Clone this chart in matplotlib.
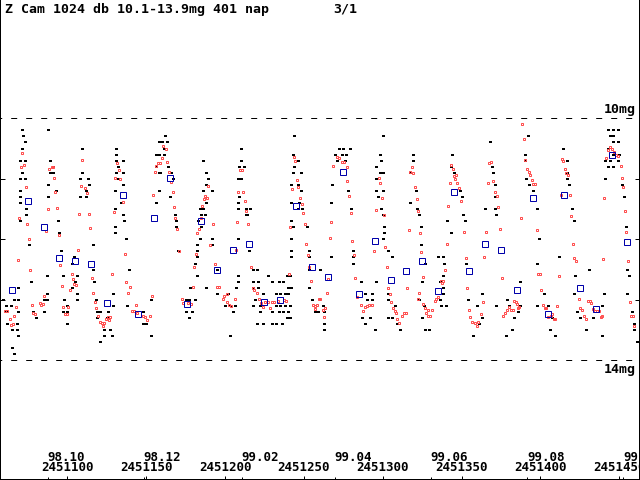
import matplotlib
matplotlib.use("Agg")
import matplotlib.pyplot as plt
import matplotlib.transforms as mtransforms
import pandas as pd

# Z Cam light curve, JD 2451057 - 2451463
JD0 = 2451000

# visual estimates (day = JD - 2451000, magnitude)
vis_obs = [
    (71, 10.2), (72, 10.3), (73, 10.4), (71, 10.5), (70, 10.7), (73, 10.7), (71, 10.9), (70, 11.0),
    (73, 11.0), (70, 11.2), (70, 11.3), (70, 11.4), (74, 11.5), (74, 11.6), (70, 11.7), (76, 12.1),
    (77, 12.7), (69, 12.8), (66, 13.0), (69, 13.0), (61, 13.1), (64, 13.1), (69, 13.2), (62, 13.4),
    (68, 13.4), (65, 13.5), (68, 13.5), (69, 13.6), (65, 13.8), (66, 13.9), (59, 13.0), (61, 13.2),
    (88, 10.2), (89, 10.7), (91, 10.8), (89, 10.9), (91, 10.9), (88, 11.1), (93, 11.2), (88, 11.3),
    (94, 11.7), (95, 11.9), (96, 12.2), (87, 12.6), (97, 12.6), (87, 12.9), (85, 13.0), (87, 13.0),
    (78, 13.2), (85, 13.2), (80, 13.3),
    (109, 10.5), (109, 10.9), (108, 11.0), (113, 11.0), (114, 11.1), (112, 11.2), (108, 11.3), (112, 11.3),
    (116, 12.1), (104, 12.3), (103, 12.4), (106, 12.6), (105, 12.7), (103, 12.8), (106, 12.9), (106, 13.0),
    (98, 13.0), (100, 13.1), (97, 13.2), (100, 13.2), (100, 13.4), (116, 12.5), (117, 12.7), (118, 13.0),
    (119, 13.2), (121, 13.2), (119, 13.3), (123, 13.5), (127, 13.5), (123, 13.6), (121, 13.7), (128, 13.6),
    (126, 13.2), (129, 12.9), (129, 13.1), (125, 13.3),
    (131, 10.5), (131, 10.6), (131, 10.7), (135, 10.7), (132, 10.8), (131, 10.9), (135, 10.9), (132, 11.0),
    (135, 11.1), (130, 11.2), (134, 11.4), (130, 11.5), (135, 11.6), (136, 11.7), (130, 11.8), (130, 11.9),
    (137, 12.0), (139, 12.5), (138, 13.1), (148, 13.2), (148, 13.4), (150, 13.4), (153, 13.6), (153, 13.0),
    (156, 10.6), (158, 10.6), (156, 10.8), (158, 10.9), (158, 11.2), (156, 11.4), (158, 10.4),
    (162, 10.3), (163, 10.4), (160, 10.4), (161, 10.5), (161, 10.6), (164, 10.8), (166, 10.9), (159, 10.9),
    (167, 11.0), (165, 11.3), (168, 11.6), (169, 11.7), (169, 11.8), (170, 12.2), (181, 12.4), (182, 12.6),
    (178, 12.8), (181, 13.0), (175, 13.0), (177, 13.0), (175, 13.2), (179, 13.2), (177, 13.3),
    (186, 10.7), (188, 10.9), (189, 11.0), (188, 11.1), (186, 11.2), (192, 11.2), (188, 11.4), (186, 11.5),
    (184, 11.5), (185, 11.6), (187, 11.6), (183, 11.7), (185, 11.8), (184, 12.0), (182, 12.1), (182, 12.2),
    (182, 12.3), (192, 12.0), (192, 12.1), (195, 12.5), (188, 12.8), (195, 12.9), (200, 13.1), (202, 12.9),
    (203, 13.1), (206, 13.1), (205, 13.2), (203, 13.6), (208, 12.6), (208, 12.7), (207, 12.8),
    (210, 10.5), (210, 10.7), (209, 10.8), (212, 10.8), (208, 11.0), (210, 11.0), (209, 11.3), (208, 11.4),
    (208, 11.5), (213, 11.5), (216, 11.5), (213, 11.6), (214, 11.6), (208, 12.0), (215, 12.2), (218, 12.5),
    (220, 12.5), (218, 12.7), (221, 12.7), (218, 12.8), (221, 12.8), (219, 13.0), (222, 13.1), (218, 13.1),
    (222, 13.2), (220, 13.4), (224, 13.4), (227, 12.6), (224, 12.9), (230, 12.7), (234, 12.7), (237, 12.7),
    (232, 12.9), (235, 12.9), (238, 12.9), (240, 12.9), (232, 13.1), (235, 13.1), (238, 13.1), (241, 13.1),
    (230, 13.2), (234, 13.2), (237, 13.2), (240, 13.2), (230, 13.4), (232, 13.4), (236, 13.4), (239, 13.3),
    (241, 13.3), (240, 12.8), (242, 12.8), (241, 12.6),
    (244, 10.3), (243, 10.6), (246, 10.7), (244, 10.8), (243, 10.9), (248, 10.9), (246, 11.1), (242, 11.1),
    (248, 11.2), (242, 11.4), (247, 11.4), (249, 11.5), (246, 11.5), (242, 11.7), (243, 11.8), (242, 12.0),
    (242, 12.2), (242, 12.3), (252, 11.8), (253, 12.2), (253, 12.3), (253, 12.5), (253, 12.8), (255, 13.0),
    (257, 13.2), (259, 13.2), (239, 12.6),
    (272, 10.5), (275, 10.5), (279, 10.5), (270, 10.6), (274, 10.6), (277, 10.6), (271, 10.7), (276, 10.7),
    (268, 11.1), (278, 11.2), (267, 11.4), (280, 11.5), (281, 12.2), (281, 12.3), (281, 12.4), (260, 12.5),
    (267, 12.3), (286, 12.7), (289, 12.9), (293, 12.9), (290, 13.0), (293, 13.0), (287, 13.3), (292, 13.3),
    (289, 13.4), (295, 13.5), (263, 13.2), (263, 13.4), (263, 13.5), (262, 13.1),
    (300, 10.3), (298, 10.6), (299, 10.7), (296, 10.8), (298, 10.9), (300, 10.9), (296, 11.0), (296, 11.2),
    (300, 11.2), (297, 11.3), (299, 11.5), (300, 11.6), (301, 11.8), (301, 11.9), (300, 12.0), (303, 12.2),
    (296, 12.7), (303, 12.9), (303, 13.0), (308, 13.1), (306, 13.3), (303, 13.3), (309, 13.4), (311, 13.5),
    (306, 12.3),
    (319, 10.6), (319, 10.7), (317, 10.9), (321, 11.2), (317, 11.4), (322, 11.5), (323, 11.6), (324, 11.8),
    (324, 12.1), (327, 12.4), (325, 12.7), (323, 13.0), (326, 13.1), (325, 13.3), (329, 13.5), (327, 13.5),
    (335, 12.3), (338, 12.3), (339, 12.4), (338, 12.6), (336, 12.7), (338, 12.8), (338, 12.9), (336, 13.0),
    (340, 13.1), (337, 13.1),
    (344, 10.6), (343, 10.8), (345, 10.9), (349, 11.2), (350, 11.3), (351, 11.6), (352, 11.7), (341, 11.7),
    (343, 11.9), (353, 12.4), (354, 13.0), (357, 13.6),
    (368, 10.4), (369, 10.8), (370, 10.9), (371, 11.1), (371, 11.3), (365, 11.5), (371, 11.5), (372, 11.6),
    (363, 12.9), (360, 13.1), (363, 13.3), (361, 13.4), (372, 13.1), (378, 13.6), (382, 13.5), (379, 13.0),
    (380, 13.1), (386, 13.2), (387, 13.1), (383, 13.3),
    (392, 10.3), (390, 10.6), (390, 10.7), (391, 11.0), (393, 11.1), (395, 11.2), (398, 11.5), (399, 12.0),
    (398, 12.4), (387, 12.7), (402, 12.9), (398, 13.1), (405, 13.1), (409, 13.6), (406, 13.5), (407, 13.3),
    (414, 10.5), (417, 10.7), (417, 11.0), (417, 10.9), (418, 11.1), (420, 11.5), (421, 11.7), (412, 12.3),
    (422, 12.6), (421, 12.9), (423, 13.2), (425, 13.3), (429, 13.5), (431, 12.5), (433, 13.3), (439, 13.1),
    (439, 13.6), (440, 12.9),
    (443, 10.2), (446, 10.2), (449, 10.2), (444, 10.3), (446, 10.3), (446, 10.4), (449, 10.4), (443, 10.5),
    (446, 10.6), (450, 10.6), (441, 10.7), (444, 10.7), (449, 10.7), (443, 10.8), (446, 10.8), (441, 11.0),
    (452, 11.1), (453, 11.3), (454, 11.8), (455, 12.5), (456, 12.6), (458, 13.2), (459, 13.4), (459, 13.5),
    (461, 13.7), (455, 12.9),
]

# red squares: other (instrumental) observations
red_obs = [
    (71.2, 10.58), (72.5, 10.78), (70.6, 10.81), (73.8, 11.14), (69.3, 11.64), (74.4, 11.74), (75.7, 12.00),
    (68.7, 12.35), (76.3, 12.50), (85.2, 12.93), (67.4, 13.12), (61.7, 13.19), (60.5, 13.19), (66.2, 13.27),
    (63.6, 13.31), (65.5, 13.40), (64.3, 13.42), (77.6, 13.09), (78.2, 13.22), (79.5, 13.24), (82.7, 13.06),
    (84.6, 13.07), (83.3, 13.09),
    (88.4, 10.83), (90.3, 10.81), (90.9, 10.81), (91.5, 10.99), (92.2, 11.21), (93.4, 11.49), (87.7, 11.50),
    (86.5, 11.87), (94.7, 11.93), (95.3, 12.43), (96.6, 12.78), (97.2, 13.12), (100.4, 13.12), (98.5, 13.24),
    (99.8, 13.24),
    (109.3, 10.69), (108.7, 11.12), (111.2, 11.16), (112.5, 11.24), (107.4, 11.59), (113.7, 11.59),
    (114.4, 11.82), (106.8, 12.17), (102.9, 12.58), (103.6, 12.66), (105.5, 12.76), (104.2, 12.74),
    (101.7, 12.83), (115.6, 12.64), (116.3, 12.89), (117.5, 13.04), (118.2, 13.14), (119.4, 13.26),
    (120.7, 13.36), (122.0, 13.39), (123.2, 13.39), (122.6, 13.44), (124.5, 13.31), (125.8, 13.29),
    (127.0, 13.29), (126.4, 13.34),
    (131.5, 10.74), (132.7, 10.86), (130.2, 10.99), (133.4, 11.01), (135.3, 11.39), (129.6, 11.55),
    (136.6, 12.25), (128.3, 12.58), (137.2, 12.71), (139.7, 12.79), (138.5, 12.89), (143.5, 13.09),
    (141.0, 13.19), (142.3, 13.19), (144.2, 13.21), (148.0, 13.26), (149.2, 13.29), (150.5, 13.34),
    (152.4, 13.27), (153.7, 12.94), (154.3, 11.27), (155.6, 10.89), (156.2, 10.79), (157.5, 10.74),
    (160.6, 10.45), (162.5, 10.50), (160.0, 10.66), (163.2, 10.73), (158.7, 10.74), (164.4, 10.89),
    (165.7, 11.06), (167.0, 11.21), (167.6, 11.47), (168.3, 11.65), (169.5, 11.83), (170.8, 12.20),
    (180.3, 12.45), (179.7, 12.79), (172.7, 12.99), (173.3, 13.06), (176.5, 13.06), (178.4, 13.07),
    (189.2, 11.12), (187.3, 11.29), (188.5, 11.31), (186.6, 11.34), (185.4, 11.45), (184.7, 11.65),
    (183.5, 11.83), (182.2, 11.90), (192.3, 11.75), (190.4, 12.10), (193.6, 12.40), (181.6, 12.25),
    (194.9, 12.79), (196.1, 12.79), (201.2, 12.91), (199.3, 12.93), (198.7, 12.99), (201.2, 13.04),
    (202.5, 13.09), (203.8, 13.11), (206.3, 12.98), (206.9, 12.18),
    (209.5, 10.86), (210.7, 10.86), (211.4, 11.22), (208.2, 11.21), (212.6, 11.36), (213.3, 11.54),
    (207.6, 11.72), (214.5, 11.75), (216.4, 12.46), (217.7, 12.81), (218.3, 12.84), (220.2, 12.89),
    (221.5, 12.98), (222.8, 13.06), (224.0, 13.12), (225.3, 13.04), (227.2, 13.04), (228.5, 13.14),
    (229.7, 13.04), (231.0, 13.04), (233.5, 13.02), (237.4, 13.01), (238.6, 13.02),
    (243.7, 10.64), (244.3, 10.71), (245.6, 11.02), (246.2, 11.14), (242.4, 11.17), (247.5, 11.31),
    (248.8, 11.42), (249.4, 11.57), (250.7, 11.74), (241.2, 11.80), (251.3, 12.08), (252.6, 12.26),
    (253.2, 12.46), (254.5, 12.69), (240.5, 12.58), (259.5, 12.98), (255.7, 13.09), (257.0, 13.11),
    (258.3, 13.09), (257.0, 13.16),
    (271.0, 10.64), (272.2, 10.66), (268.4, 10.79), (274.1, 10.73), (275.4, 10.73), (277.3, 10.81),
    (277.3, 11.04), (278.6, 11.29), (279.8, 11.57), (267.2, 11.72), (266.5, 11.98), (280.5, 12.03),
    (281.7, 12.26), (282.4, 12.64), (264.6, 12.89), (265.2, 12.66), (263.4, 13.14), (262.7, 13.29),
    (262.1, 13.17), (260.2, 12.99), (283.6, 12.96), (286.2, 13.09), (287.4, 13.19), (288.7, 13.12),
    (290.0, 13.11), (291.2, 13.09), (293.1, 13.09),
    (297.6, 10.99), (298.2, 11.07), (299.5, 11.32), (295.7, 11.52), (300.8, 11.60), (294.4, 12.20),
    (301.4, 12.13), (302.7, 12.46), (303.3, 12.81), (304.6, 12.91), (305.2, 13.04), (306.5, 13.14),
    (307.7, 13.19), (308.4, 13.22), (309.0, 13.32), (310.3, 13.39), (312.2, 13.26), (313.4, 13.22),
    (314.7, 13.22),
    (318.5, 10.81), (317.2, 10.88), (319.1, 10.91), (320.4, 11.14), (321.7, 11.34), (322.3, 11.54),
    (316.6, 11.85), (323.6, 11.90), (324.2, 12.21), (325.5, 12.63), (315.3, 12.81), (322.9, 12.89),
    (322.3, 12.98), (325.5, 13.07), (326.8, 13.14), (327.4, 13.21), (328.7, 13.17), (329.9, 13.26),
    (328.7, 13.26), (331.2, 13.17), (333.1, 13.02), (333.7, 12.99), (335.0, 12.96),
    (343.2, 10.78), (344.5, 10.83), (345.1, 10.96), (346.4, 10.93), (345.8, 11.01), (347.0, 11.07),
    (348.3, 11.16), (342.6, 11.07), (349.6, 11.36), (341.3, 11.45), (351.5, 11.88), (340.7, 12.07),
    (339.4, 12.50), (338.2, 12.69), (337.5, 12.73), (336.9, 12.69), (353.4, 12.81), (354.6, 13.17),
    (355.3, 13.29), (356.5, 13.36), (358.5, 13.39), (359.7, 13.44), (360.4, 13.36), (362.3, 13.24),
    (363.5, 13.04), (352.7, 12.31), (364.2, 12.30), (365.4, 11.88),
    (367.3, 10.74), (368.6, 10.73), (366.7, 11.07), (369.9, 11.04), (371.1, 11.22), (372.4, 11.29),
    (373.0, 11.47), (374.3, 11.83), (375.6, 12.64), (376.2, 13.26), (377.5, 13.21), (378.7, 13.17),
    (380.0, 13.12), (381.3, 13.17), (382.5, 13.17), (383.2, 13.02), (384.4, 13.04), (385.1, 13.07),
    (385.7, 13.14), (386.3, 13.12),
    (388.3, 10.10), (389.5, 10.35), (390.2, 10.69), (391.4, 10.83), (392.7, 10.88), (393.3, 10.94),
    (394.6, 11.02), (395.2, 11.09), (396.5, 11.09), (387.6, 11.64), (397.8, 11.85), (398.4, 12.58),
    (399.7, 12.58), (400.3, 12.83), (401.6, 13.09), (402.8, 13.14), (403.5, 13.14), (404.7, 13.29),
    (406.6, 13.26), (407.3, 13.24), (408.5, 13.31), (409.2, 13.32), (410.4, 13.11), (411.7, 12.61),
    (413.6, 10.68), (414.2, 10.71), (415.5, 10.83), (416.1, 10.91), (417.4, 10.93), (413.0, 11.27),
    (418.7, 11.26), (419.3, 11.62), (420.6, 12.07), (421.2, 12.31), (422.5, 12.36), (424.4, 12.99),
    (425.0, 13.14), (426.3, 13.17), (427.6, 13.27), (428.8, 13.32), (430.1, 13.02), (431.4, 13.02),
    (432.0, 13.06), (433.3, 13.16), (434.5, 13.19), (435.8, 13.19), (437.1, 13.19), (438.3, 13.29),
    (439.0, 13.26), (439.6, 12.33), (440.2, 11.32),
    (441.5, 10.66), (442.8, 10.53), (444.0, 10.48), (445.3, 10.51), (446.6, 10.56), (447.8, 10.60),
    (449.1, 10.63), (451.0, 10.79), (451.6, 10.98), (452.3, 11.14), (453.6, 11.54), (454.2, 11.88),
    (455.5, 12.36), (456.7, 13.04), (457.4, 13.26), (458.6, 13.26), (459.3, 13.44),
]

# blue squares: 10-day means
mean_obs = [
    (64.9, 12.84), (75.1, 11.36), (85.2, 11.79), (94.7, 12.31), (104.9, 12.36), (115.0, 12.40),
    (125.1, 13.06), (135.3, 11.26), (144.8, 13.24), (154.9, 11.65), (165.1, 10.98), (175.9, 13.07),
    (184.7, 11.69), (194.9, 12.50), (205.0, 12.18), (215.2, 12.07), (224.7, 13.04), (234.8, 13.01),
    (245.0, 11.45), (255.1, 12.45), (265.3, 12.63), (274.8, 10.89), (284.9, 12.91), (295.1, 12.03),
    (305.2, 12.68), (314.7, 12.53), (324.8, 12.36), (335.0, 12.86), (345.1, 11.22), (354.6, 12.53),
    (364.8, 12.07), (374.9, 12.18), (385.1, 12.83), (395.2, 11.32), (404.7, 13.24), (414.9, 11.26),
    (425.0, 12.81), (435.2, 13.16), (445.3, 10.60), (454.8, 12.05),
]

jd_ticks = [100, 150, 200, 250, 300, 350, 400, 450]
month_ticks = ["1998-10-01", "1998-12-01", "1999-02-01", "1999-04-01",
               "1999-06-01", "1999-08-01", "1999-10-01"]

plt.rcParams["lines.scale_dashes"] = False
mono = dict(family="DejaVu Sans Mono", weight="bold", size=9.5)
mono_small = dict(family="DejaVu Sans Mono", weight="bold", size=9)

fig = plt.figure(figsize=(6.4, 4.8), dpi=100)
ax = fig.add_axes([0, 0, 1, 1])
ax.set_xlim(57.3, 463.1)
ax.set_ylim(15.978, 8.045)

px = 0.72  # one pixel in points
ax.plot([p[0] for p in vis_obs], [p[1] for p in vis_obs], ls="none",
        marker=[(-1.5, -1), (1.5, -1), (1.5, 1), (-1.5, 1), (-1.5, -1)],
        ms=3 * px, mew=0, color="black", antialiased=False, zorder=2)
ax.plot([p[0] for p in red_obs], [p[1] for p in red_obs], ls="none", marker="s",
        ms=2.8 * px, mew=px, mec="#ff4d4d", mfc="none", antialiased=False, zorder=3)
ax.plot([p[0] for p in mean_obs], [p[1] for p in mean_obs], ls="none", marker="s",
        ms=5.5 * px, mew=px, mec="#0000aa", mfc="none", antialiased=False, zorder=4)

for m in (10, 14):
    ax.axhline(m, color="black", lw=px, ls=(3.1, (6 * px, 9 * px)), zorder=1)

ax.spines["top"].set_visible(False)
for side in ("left", "right", "bottom"):
    ax.spines[side].set_linewidth(2 * px)

ax.set_yticks([11, 12, 13])
ax.tick_params(axis="y", direction="in", length=5 * px, width=px,
               left=True, right=True, labelleft=False)

month_t = [pd.Timestamp(d).to_julian_date() - JD0 for d in month_ticks]
ax.set_xticks(jd_ticks)
ax.set_xticks(month_t, minor=True)
ax.tick_params(axis="x", which="major", direction="in", length=4 * px, width=px, labelbottom=False)
ax.tick_params(axis="x", which="minor", direction="in", length=3 * px, width=px)

trans = mtransforms.blended_transform_factory(ax.transData, ax.transAxes)
for d, t in zip(month_ticks, month_t):
    ts = pd.Timestamp(d)
    ax.text(t, 19 / 480, f"{ts.year % 100:02d}.{ts.month:02d}", transform=trans,
            ha="left", va="baseline", **mono_small)
for t in jd_ticks:
    ax.text(t, 9 / 480, str(JD0 + t), transform=trans, ha="center", va="baseline", **mono_small)

ytrans = mtransforms.blended_transform_factory(ax.transAxes, ax.transData)
ax.annotate("10mg", xy=(636 / 640, 10), xycoords=ytrans, xytext=(0, 2),
            textcoords="offset pixels", ha="right", va="bottom", **mono)
ax.annotate("14mg", xy=(636 / 640, 14), xycoords=ytrans, xytext=(0, -3),
            textcoords="offset pixels", ha="right", va="top", **mono)

fig.text(5 / 640, 1 - 12.5 / 480, "Z Cam 1024 db 10.1-13.9mg 401 nap", ha="left", va="baseline", **mono)
fig.text(333 / 640, 1 - 12.5 / 480, "3/1", ha="left", va="baseline", **mono)

fig.savefig("out.png", dpi=100)
